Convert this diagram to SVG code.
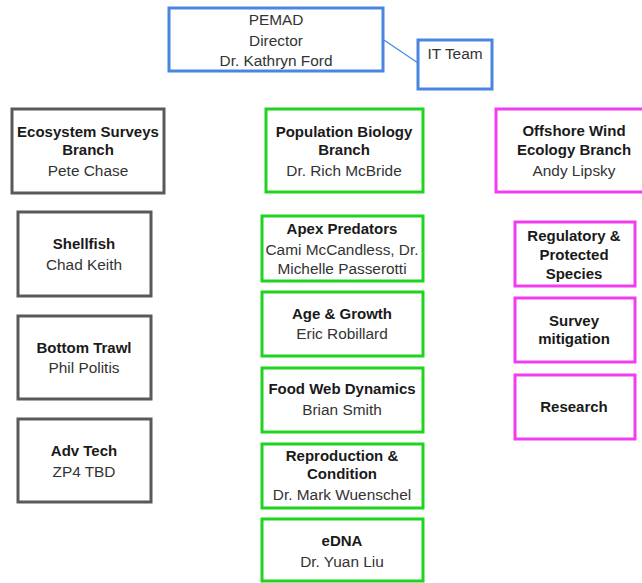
<svg xmlns="http://www.w3.org/2000/svg" width="642" height="583" viewBox="0 0 642 583">
<style>
  .box { fill: #ffffff; stroke-width: 3; }
  .blue { stroke: #4a86e0; }
  .gray { stroke: #595959; }
  .green { stroke: #1ed41e; }
  .mag { stroke: #f23cf0; }
  text { font-family: "Liberation Sans", Arial, sans-serif; font-size: 15.4px; text-anchor: middle; fill: #333333; }
  .b { font-weight: bold; font-size: 15px; fill: #1a1a1a; }
  .conn { stroke: #4a86e0; stroke-width: 1.2; fill: none; }
</style>
<rect width="642" height="583" fill="#ffffff"/>
<g id="connectors">
  <line class="conn" x1="384" y1="40" x2="418" y2="63"/>
</g>
<g id="pemad">
  <rect class="box blue" x="169" y="8" width="214" height="63"/>
  <text x="276" y="25">PEMAD</text>
  <text x="276" y="46">Director</text>
  <text x="276" y="66">Dr. Kathryn Ford</text>
</g>
<g id="it-team">
  <rect class="box blue" x="418" y="40" width="74" height="49"/>
  <text x="455" y="59">IT Team</text>
</g>
<g id="ecosystem">
  <rect class="box gray" x="12" y="109" width="152" height="84"/>
  <text class="b" x="88" y="137">Ecosystem Surveys</text>
  <text class="b" x="88" y="155">Branch</text>
  <text x="88" y="176">Pete Chase</text>
</g>
<g id="shellfish">
  <rect class="box gray" x="18" y="212" width="133" height="84"/>
  <text class="b" x="84" y="249">Shellfish</text>
  <text x="84" y="270">Chad Keith</text>
</g>
<g id="bottom-trawl">
  <rect class="box gray" x="18" y="316" width="133" height="83"/>
  <text class="b" x="84" y="353">Bottom Trawl</text>
  <text x="84" y="373">Phil Politis</text>
</g>
<g id="adv-tech">
  <rect class="box gray" x="18" y="419" width="133" height="83"/>
  <text class="b" x="84" y="456">Adv Tech</text>
  <text x="84" y="477">ZP4 TBD</text>
</g>
<g id="popbio">
  <rect class="box green" x="266" y="109" width="157" height="83"/>
  <text class="b" x="344" y="137">Population Biology</text>
  <text class="b" x="344" y="155">Branch</text>
  <text x="344" y="176">Dr. Rich McBride</text>
</g>
<g id="apex">
  <rect class="box green" x="262" y="216" width="161" height="65"/>
  <text class="b" x="342" y="234">Apex Predators</text>
  <text x="342" y="255">Cami McCandless, Dr.</text>
  <text x="342" y="274">Michelle Passerotti</text>
</g>
<g id="age-growth">
  <rect class="box green" x="262" y="292" width="161" height="64"/>
  <text class="b" x="342" y="319">Age &amp; Growth</text>
  <text x="342" y="339">Eric Robillard</text>
</g>
<g id="food-web">
  <rect class="box green" x="262" y="368" width="161" height="64"/>
  <text class="b" x="342" y="394">Food Web Dynamics</text>
  <text x="342" y="415">Brian Smith</text>
</g>
<g id="reproduction">
  <rect class="box green" x="262" y="444" width="161" height="64"/>
  <text class="b" x="342" y="461">Reproduction &amp;</text>
  <text class="b" x="342" y="479">Condition</text>
  <text x="342" y="500">Dr. Mark Wuenschel</text>
</g>
<g id="edna">
  <rect class="box green" x="262" y="519" width="161" height="62"/>
  <text class="b" x="342" y="546">eDNA</text>
  <text x="342" y="567">Dr. Yuan Liu</text>
</g>
<g id="offshore">
  <rect class="box mag" x="496" y="109" width="156" height="83"/>
  <text class="b" x="574" y="136">Offshore Wind</text>
  <text class="b" x="574" y="155">Ecology Branch</text>
  <text x="574" y="176">Andy Lipsky</text>
</g>
<g id="regulatory">
  <rect class="box mag" x="515" y="222" width="120" height="64"/>
  <text class="b" x="574" y="241">Regulatory &amp;</text>
  <text class="b" x="574" y="260">Protected</text>
  <text class="b" x="574" y="279">Species</text>
</g>
<g id="survey-mitigation">
  <rect class="box mag" x="515" y="298" width="120" height="64"/>
  <text class="b" x="574" y="326">Survey</text>
  <text class="b" x="574" y="344">mitigation</text>
</g>
<g id="research">
  <rect class="box mag" x="515" y="375" width="120" height="64"/>
  <text class="b" x="574" y="412">Research</text>
</g>
</svg>
